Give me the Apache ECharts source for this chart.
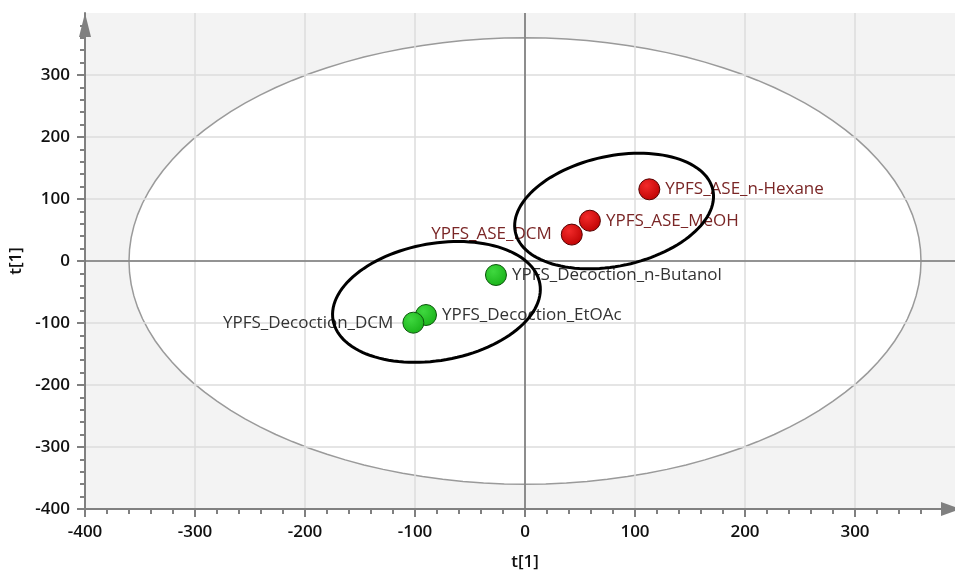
<!DOCTYPE html>
<html>
<head>
<meta charset="utf-8">
<script src="https://cdn.jsdelivr.net/npm/echarts@6/dist/echarts.min.js"></script>
<style>
  html, body { margin: 0; padding: 0; background: #ffffff; overflow: hidden; }
  #chart { width: 955px; height: 572px; }
</style>
</head>
<body>
<div id="chart"></div>
<script>
// ---- data ----
const xTickValues = [-400, -300, -200, -100, 0, 100, 200, 300];
const yTickValues = [-400, -300, -200, -100, 0, 100, 200, 300];
const xAxisName = 't[1]';
const yAxisName = 't[1]';

const sampleNames = [
  'YPFS_ASE_n-Hexane',
  'YPFS_ASE_MeOH',
  'YPFS_ASE_DCM',
  'YPFS_Decoction_n-Butanol',
  'YPFS_Decoction_EtOAc',
  'YPFS_Decoction_DCM'
];
const scoreX = [113, 59, 42.5, -26.4, -90, -101.5];
const scoreY = [115.6, 65, 42.6, -22.6, -87.1, -99.5];
const sampleGroup = ['ASE', 'ASE', 'ASE', 'Decoction', 'Decoction', 'Decoction'];

// Hotelling T2 ellipse radii (data units)
const hotellingRadius = [360, 360];
// hand-drawn group ellipses (data units): centre + two conjugate half-axis vectors
const groupEllipseCenter = { ASE: [81, 80.6], Decoction: [-80.5, -66] };
const groupEllipseU = { ASE: [89.8, 33.9], Decoction: [94.0, 29.4] };
const groupEllipseV = { ASE: [10.4, -86.8], Decoction: [9.2, -92.9] };

// ---- styling ----
const FONT = 'Open Sans';
const leftLabelSamples = ['YPFS_ASE_DCM', 'YPFS_Decoction_DCM'];
const groupStyle = {
  ASE: {
    fill: new echarts.graphic.RadialGradient(0.38, 0.33, 0.75, [
      { offset: 0, color: '#f22a2a' }, { offset: 1, color: '#bb0000' }
    ]),
    border: '#550000', label: '#7a2626'
  },
  Decoction: {
    fill: new echarts.graphic.RadialGradient(0.38, 0.33, 0.75, [
      { offset: 0, color: '#3fd83f' }, { offset: 1, color: '#17b017' }
    ]),
    border: '#0d550d', label: '#333333'
  }
};

function ellipsePts(api, c, u, v) {
  const pts = [];
  const n = 120;
  for (let i = 0; i <= n; i++) {
    const t = i / n * Math.PI * 2;
    pts.push(api.coord([
      c[0] + u[0] * Math.cos(t) + v[0] * Math.sin(t),
      c[1] + u[1] * Math.cos(t) + v[1] * Math.sin(t)
    ]));
  }
  return pts;
}

const series = [];

// background + Hotelling ellipse (below grid lines)
series.push({
  type: 'custom',
  z: -1,
  silent: true,
  data: [[0, 0]],
  renderItem: function (params, api) {
    const cs = params.coordSys;
    return {
      type: 'group',
      children: [
        { type: 'rect', shape: { x: cs.x, y: cs.y, width: cs.width, height: cs.height },
          style: { fill: '#f3f3f3' } },
        { type: 'polygon', shape: { points: ellipsePts(api, [0, 0], [hotellingRadius[0], 0], [0, hotellingRadius[1]]) },
          style: { fill: '#ffffff', stroke: '#9a9a9a', lineWidth: 1.5 } }
      ]
    };
  }
});

// zero lines
series.push({
  type: 'custom',
  z: 1,
  silent: true,
  data: [[0, 0]],
  renderItem: function (params, api) {
    const cs = params.coordSys;
    const o = api.coord([0, 0]);
    return {
      type: 'group',
      children: [
        { type: 'line', shape: { x1: o[0], y1: cs.y, x2: o[0], y2: cs.y + cs.height },
          style: { stroke: '#777777', lineWidth: 1.6 } },
        { type: 'line', shape: { x1: cs.x, y1: o[1], x2: cs.x + cs.width, y2: o[1] },
          style: { stroke: '#777777', lineWidth: 1.6 } }
      ]
    };
  }
});

// scatter points per group
['ASE', 'Decoction'].forEach(function (g) {
  const data = [];
  for (let i = 0; i < sampleNames.length; i++) {
    if (sampleGroup[i] !== g) continue;
    const left = leftLabelSamples.indexOf(sampleNames[i]) >= 0;
    data.push({
      name: sampleNames[i],
      value: [scoreX[i], scoreY[i]],
      label: { position: left ? 'left' : 'right', distance: left ? 9 : 5 }
    });
  }
  series.push({
    type: 'scatter',
    z: 2,
    symbolSize: 21,
    data: data,
    itemStyle: { color: groupStyle[g].fill, borderColor: groupStyle[g].border, borderWidth: 1, opacity: 1 },
    label: {
      show: true,
      formatter: '{b}',
      fontFamily: FONT,
      fontSize: 17,
      color: groupStyle[g].label
    },
    emphasis: { disabled: true }
  });
});

// hand-drawn group ellipses
series.push({
  type: 'custom',
  z: 5,
  silent: true,
  data: [[0, 0]],
  renderItem: function (params, api) {
    return {
      type: 'group',
      children: ['ASE', 'Decoction'].map(function (g) {
        return {
          type: 'polygon',
          shape: { points: ellipsePts(api, groupEllipseCenter[g], groupEllipseU[g], groupEllipseV[g]) },
          style: { fill: 'none', stroke: '#000000', lineWidth: 3 }
        };
      })
    };
  }
});

const axisGray = '#808080';
const tickFont = { fontFamily: FONT, fontSize: 17, fontWeight: 600, color: '#111' };
const option = {
  animation: false,
  backgroundColor: '#ffffff',
  grid: { left: 85, width: 880, top: 13, height: 496, containLabel: false, outerBoundsMode: 'none' },
  xAxis: {
    type: 'value', min: -400, max: 400, interval: 100,
    name: xAxisName, nameLocation: 'middle', nameGap: 45,
    nameTextStyle: tickFont,
    axisLine: { show: true, onZero: false, symbol: ['none', 'triangle'], symbolSize: [14, 20],
      symbolOffset: [0, -14], lineStyle: { color: axisGray, width: 2 } },
    axisTick: { show: true, length: 8, customValues: xTickValues, lineStyle: { color: axisGray, width: 2 } },
    minorTick: { show: true, splitNumber: 5, length: 5, lineStyle: { color: axisGray, width: 2 } },
    axisLabel: Object.assign({ margin: 15, customValues: xTickValues }, tickFont),
    splitLine: { show: true, lineStyle: { color: '#dcdcdc', width: 1.5 } }
  },
  yAxis: {
    type: 'value', min: -400, max: 400, interval: 100,
    name: yAxisName, nameLocation: 'middle', nameGap: 55,
    nameTextStyle: tickFont,
    axisLine: { show: true, onZero: false, symbol: ['none', 'triangle'], symbolSize: [12, 24],
      symbolOffset: [0, -12], lineStyle: { color: axisGray, width: 2 } },
    axisTick: { show: true, length: 8, customValues: yTickValues, lineStyle: { color: axisGray, width: 2 } },
    minorTick: { show: true, splitNumber: 5, length: 5, lineStyle: { color: axisGray, width: 2 } },
    axisLabel: Object.assign({ margin: 15, customValues: yTickValues }, tickFont),
    splitLine: { show: true, lineStyle: { color: '#dcdcdc', width: 1.5 } }
  },
  series: series
};

const chart = echarts.init(document.getElementById('chart'), null, { renderer: 'canvas' });
chart.setOption(option);
</script>
</body>
</html>
